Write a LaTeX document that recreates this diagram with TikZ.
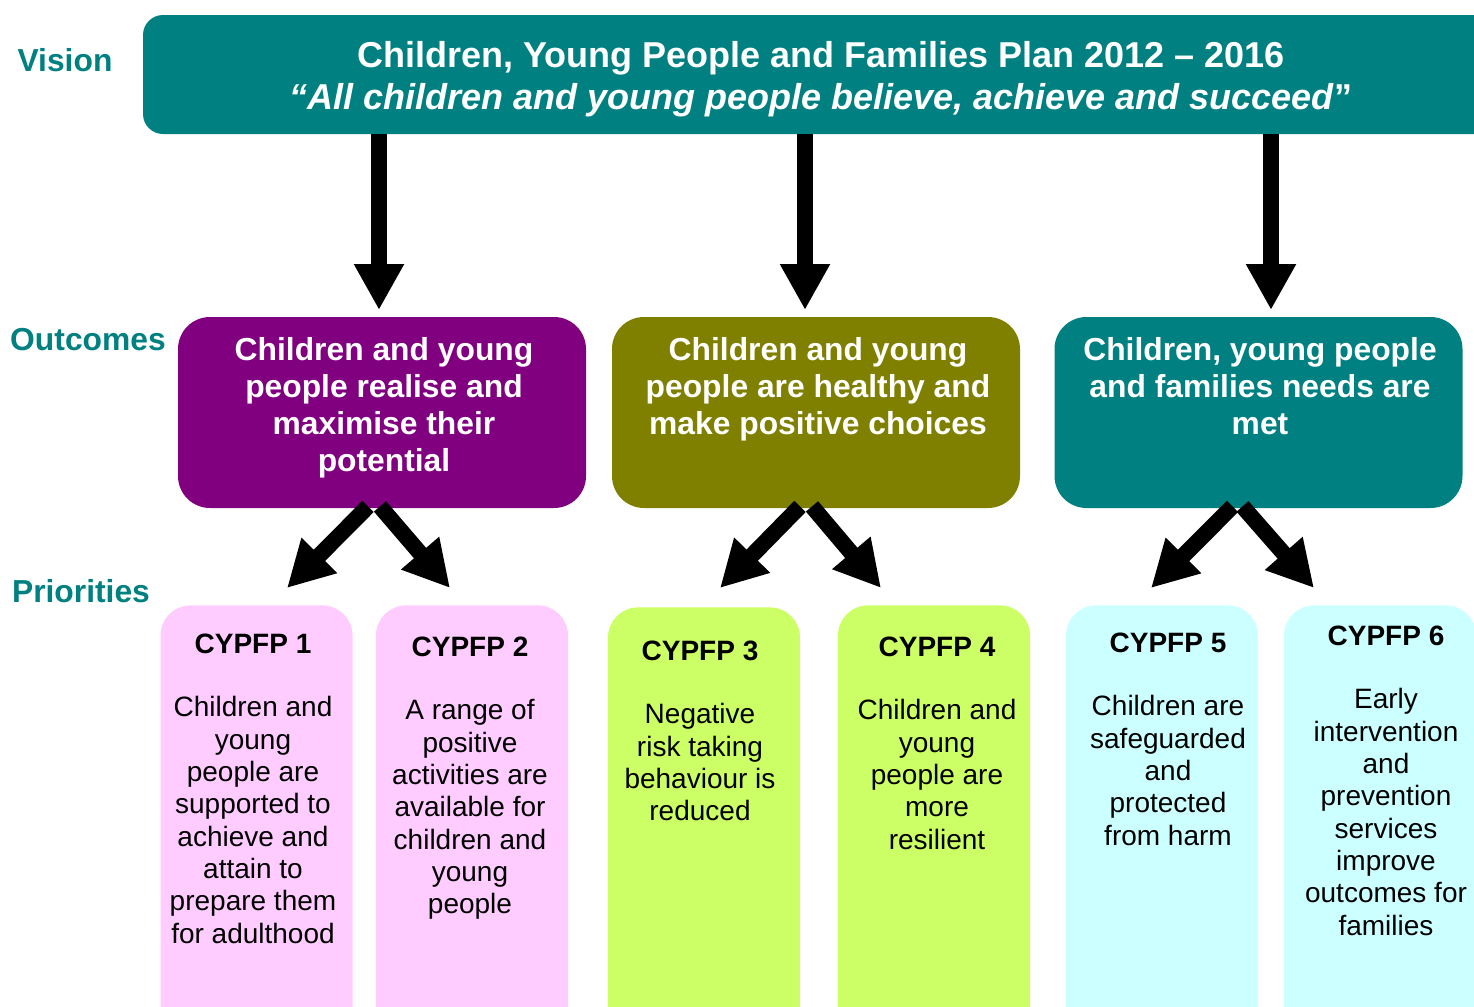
\documentclass[tikz,border=0pt]{standalone}
\usepackage{fontspec}
\setmainfont{Liberation Sans}
\usetikzlibrary{arrows.meta}

\definecolor{planteal}{HTML}{008080}
\definecolor{planpurple}{HTML}{800080}
\definecolor{planolive}{HTML}{808000}
\definecolor{prpink}{HTML}{FFCCFF}
\definecolor{prlime}{HTML}{CCFF66}
\definecolor{prcyan}{HTML}{CCFFFF}

\begin{document}
\begin{tikzpicture}[x=0.5pt, y=-0.5pt,
    rowlabel/.style={text=planteal, font=\bfseries\fontsize{15.9}{18}\selectfont},
    visionbox/.style={fill=planteal, rounded corners=10pt, minimum width=678pt, minimum height=59.5pt},
    visiontext/.style={inner sep=0pt, text=white, align=center, font=\bfseries\fontsize{18}{21}\selectfont},
    outbox/.style={rounded corners=16pt, minimum width=204pt, minimum height=95.5pt},
    outtext/.style={anchor=north, inner sep=0pt, text=white, align=center,
        font=\bfseries\fontsize{15.9}{18.5}\selectfont},
    priobox/.style={anchor=north, rounded corners=15pt, minimum width=96pt, minimum height=300pt},
    priotext/.style={anchor=north, inner sep=0pt, align=center, font=\fontsize{14}{16.15}\selectfont},
    bigarrow/.style={line width=8pt, -{Triangle[length=23pt, width=23.5pt]}}
]
\useasboundingbox (0,0) rectangle (1474,1007);
\clip (0,0) rectangle (1474,1007);

% row labels
\node[rowlabel] (lvision) at (65,60) {Vision};
\node[rowlabel] (loutcomes) at (88,340) {Outcomes};
\node[rowlabel] (lpriorities) at (81,591) {Priorities};

% vision
\node[visionbox] (vision) at (821,74.5) {};
\node[visiontext] (vtext) at (821,79.5)
    {Children, Young People and Families Plan 2012 – 2016\\
     \textit{“All children and young people believe, achieve and succeed}”};

% outcomes
\node[outbox, fill=planpurple] (out1) at (382,412.5) {};
\node[outbox, fill=planolive] (out2) at (816,412.5) {};
\node[outbox, fill=planteal] (out3) at (1258.5,412.5) {};
\node[outtext] (otext1) at (384,337) {Children and young\\people realise and\\maximise their\\potential};
\node[outtext] (otext2) at (818,337) {Children and young\\people are healthy and\\make positive choices};
\node[outtext] (otext3) at (1260,337) {Children, young people\\and families needs are\\met};

% priorities
\node[priobox, fill=prpink] (p1) at (256.5,605) {};
\node[priobox, fill=prpink] (p2) at (472,605) {};
\node[priobox, fill=prlime] (p3) at (704,607) {};
\node[priobox, fill=prlime] (p4) at (934,605) {};
\node[priobox, fill=prcyan] (p5) at (1162,605) {};
\node[priobox, fill=prcyan] (p6) at (1380,605) {};

\node[priotext] (ptext1) at (253,634) {\textbf{CYPFP 1}\\[15.35pt]Children and\\young\\people are\\supported to\\achieve and\\attain to\\prepare them\\for adulthood};
\node[priotext] (ptext2) at (470,637) {\textbf{CYPFP 2}\\[15.35pt]A range of\\positive\\activities are\\available for\\children and\\young\\people};
\node[priotext] (ptext3) at (700,641) {\textbf{CYPFP 3}\\[15.35pt]Negative\\risk taking\\behaviour is\\reduced};
\node[priotext] (ptext4) at (937,637) {\textbf{CYPFP 4}\\[15.35pt]Children and\\young\\people are\\more\\resilient};
\node[priotext] (ptext5) at (1168,633) {\textbf{CYPFP 5}\\[15.35pt]Children are\\safeguarded\\and\\protected\\from harm};
\node[priotext] (ptext6) at (1386,626) {\textbf{CYPFP 6}\\[15.35pt]Early\\intervention\\and\\prevention\\services\\improve\\outcomes for\\families};

% arrow tips
\coordinate (v1) at (379,310);
\coordinate (v2) at (805,310);
\coordinate (v3) at (1271,310);
\coordinate (d1l) at (287,588);
\coordinate (d1r) at (450,588);
\coordinate (d2l) at (720,588);
\coordinate (d2r) at (881,588);
\coordinate (d3l) at (1151,588);
\coordinate (d3r) at (1314,588);

% vision -> outcomes
\draw[bigarrow] (vision.south -| v1) -- (v1);
\draw[bigarrow] (vision.south -| v2) -- (v2);
\draw[bigarrow] (vision.south -| v3) -- (v3);

% outcomes -> priorities
\draw[bigarrow] ([xshift=-7pt,yshift=1pt]out1.south) -- (d1l);
\draw[bigarrow] ([xshift=-1pt,yshift=1pt]out1.south) -- (d1r);
\draw[bigarrow] ([xshift=-8pt,yshift=1pt]out2.south) -- (d2l);
\draw[bigarrow] ([xshift=-2pt,yshift=1pt]out2.south) -- (d2r);
\draw[bigarrow] ([xshift=-13pt,yshift=1pt]out3.south) -- (d3l);
\draw[bigarrow] ([xshift=-8pt,yshift=1pt]out3.south) -- (d3r);
\end{tikzpicture}
\end{document}
